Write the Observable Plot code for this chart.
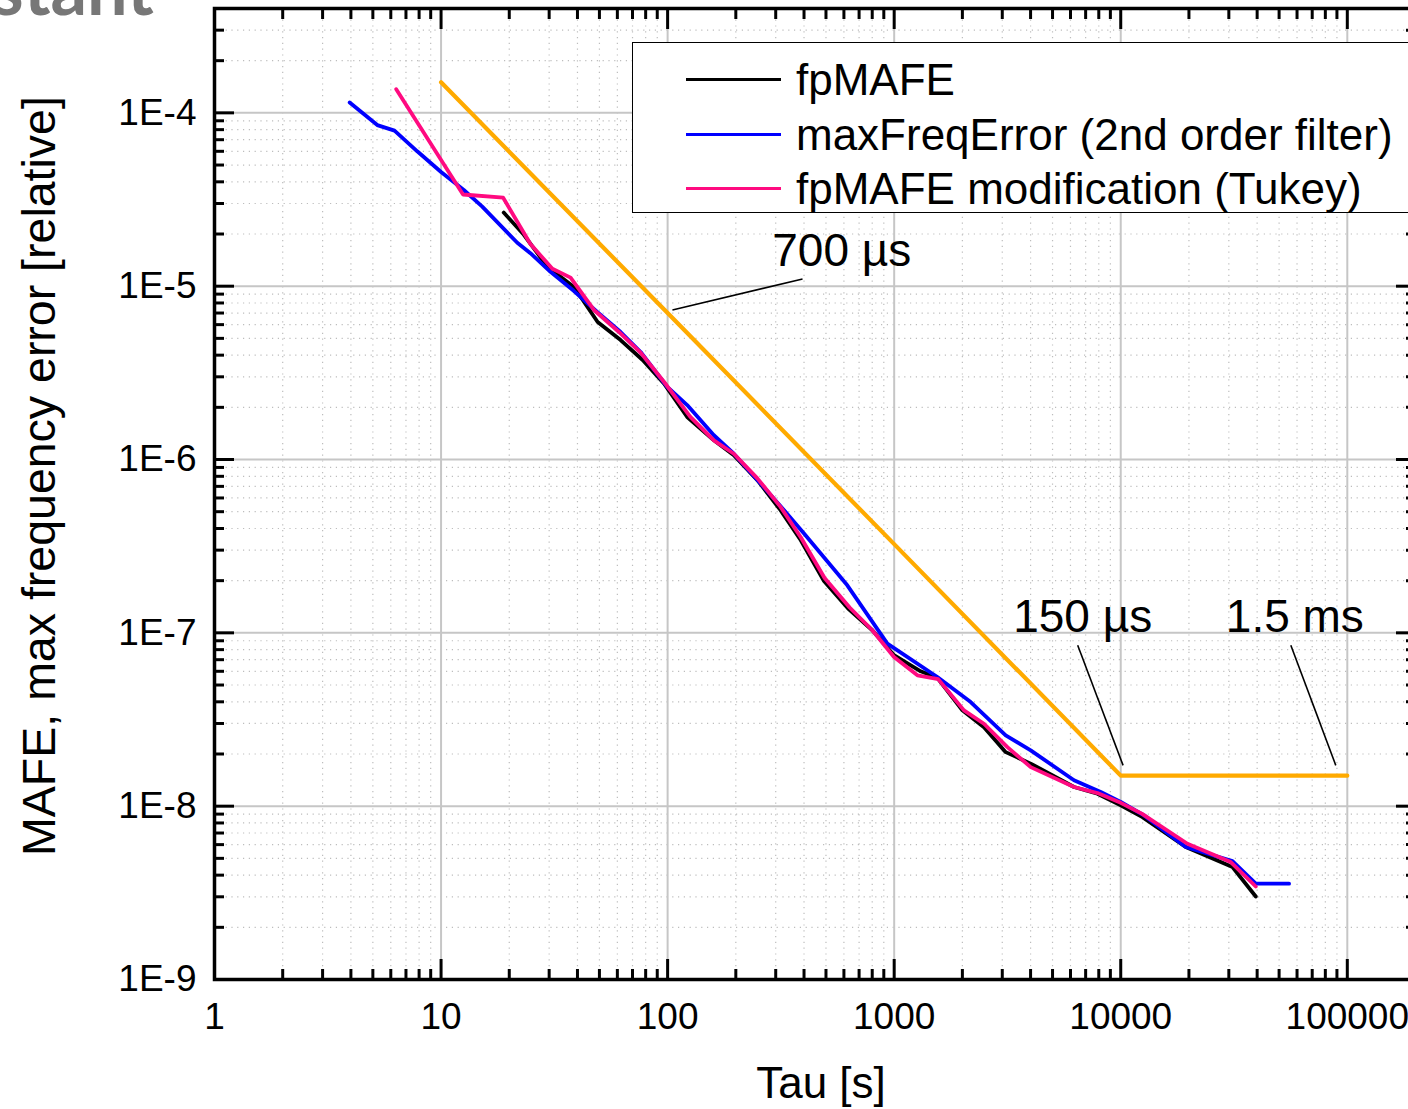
<!DOCTYPE html>
<html>
<head>
<meta charset="utf-8">
<script src="https://cdn.jsdelivr.net/npm/d3@7"></script>
<script src="https://cdn.jsdelivr.net/npm/@observablehq/plot@0.6"></script>
<style>
  html, body { margin: 0; padding: 0; background: #fff; overflow: hidden; width: 1408px; height: 1109px; }
  #wrap { position: relative; width: 1408px; height: 1109px; overflow: hidden; }
  #chart { position: absolute; left: 0; top: 0; }
  #chart svg { max-width: none !important; }
  #title { position: absolute; left: -8px; top: -49px; font: bold 72px Lato, "Open Sans", sans-serif; line-height: 72px; color: #777; white-space: nowrap; }
  #legend { position: absolute; left: 632px; top: 42px; width: 820px; height: 169px; border: 1.5px solid #000; background: #fff;
            font-family: "Liberation Sans", Arial, sans-serif; font-size: 44px; color: #000; }
  .item { position: absolute; left: 53px; height: 50px; display: flex; align-items: center; white-space: nowrap; }
  .swatch { width: 95px; height: 3px; margin-right: 15px; }
</style>
</head>
<body>
<div id="wrap">
  <div id="chart"></div>
  <div id="title">stant</div>
  <div id="legend"></div>
</div>
<script>
// ---- data ----
const seriesNames = ["fpMAFE", "maxFreqError (2nd order filter)", "fpMAFE modification (Tukey)"];
const seriesColors = ["#000000", "#0000ff", "#ff0a80"];

const blackTau = [18.9, 23.2, 29.4, 38.6, 49.1, 62, 77.6, 96.3, 122, 160, 196, 249, 315, 387, 490, 626, 801, 998, 1309, 1551, 2000, 2491, 3107, 4005, 6220, 7893, 10000, 12470, 19360, 31130, 39450];
const blackVal = [2.66e-5, 1.98e-5, 1.3e-5, 9.9e-6, 6.21e-6, 4.89e-6, 3.75e-6, 2.75e-6, 1.76e-6, 1.29e-6, 1.06e-6, 7.6e-7, 5.1e-7, 3.42e-7, 1.99e-7, 1.38e-7, 1.035e-7, 7.43e-8, 6.0e-8, 5.5e-8, 3.57e-8, 2.85e-8, 2.05e-8, 1.76e-8, 1.29e-8, 1.18e-8, 1.01e-8, 8.65e-9, 5.81e-9, 4.45e-9, 3.01e-9];

const blueTau = [3.95, 5.23, 6.23, 7.85, 10, 12.6, 15.2, 21.7, 24.8, 30.4, 38.5, 48.9, 62, 76, 99.7, 122, 160, 196, 257, 326, 400, 621, 933, 1551, 2176, 3107, 4005, 6220, 8163, 10000, 12670, 19360, 31130, 39450, 55340];
const blueVal = [1.147e-4, 8.5e-5, 7.9e-5, 6.0e-5, 4.56e-5, 3.59e-5, 2.88e-5, 1.78e-5, 1.55e-5, 1.21e-5, 9.4e-6, 7.1e-6, 5.44e-6, 4.17e-6, 2.62e-6, 2.06e-6, 1.38e-6, 1.08e-6, 7.28e-7, 5.11e-7, 3.74e-7, 1.88e-7, 8.67e-8, 5.56e-8, 3.99e-8, 2.56e-8, 2.1e-8, 1.41e-8, 1.206e-8, 1.057e-8, 8.85e-9, 5.81e-9, 4.82e-9, 3.57e-9, 3.57e-9];

const pinkTau = [6.34, 12.5, 18.8, 24.8, 31, 37.3, 47.3, 60.8, 76, 96.3, 126, 160, 196, 249, 315, 387, 493, 636, 801, 998, 1266, 1564, 2033, 2491, 3161, 4005, 6220, 7893, 10000, 12380, 19700, 30590, 39450];
const pinkVal = [1.37e-4, 3.38e-5, 3.24e-5, 1.75e-5, 1.26e-5, 1.12e-5, 7.29e-6, 5.46e-6, 4.14e-6, 2.81e-6, 1.76e-6, 1.29e-6, 1.08e-6, 7.78e-7, 5.33e-7, 3.56e-7, 2.07e-7, 1.4e-7, 1.035e-7, 7.26e-8, 5.69e-8, 5.41e-8, 3.57e-8, 2.99e-8, 2.19e-8, 1.68e-8, 1.29e-8, 1.19e-8, 1.045e-8, 9.05e-9, 6.07e-9, 4.76e-9, 3.44e-9];

const limitTau = [10, 100, 1000, 10000, 100000];
const limitVal = [1.5e-4, 7.0e-6, 3.25e-7, 1.5e-8, 1.5e-8];
const limitColor = "#ffaa00";

const annoText = ["700 µs", "150 µs", "1.5 ms"];
const annoTau = [587, 6795, 58660];
const annoVal = [1.58e-5, 1.23e-7, 1.23e-7];
const leaderTau1 = [394, 6457, 56330];
const leaderVal1 = [1.1e-5, 8.48e-8, 8.48e-8];
const leaderTau2 = [105, 10240, 88960];
const leaderVal2 = [7.29e-6, 1.72e-8, 1.72e-8];

const xTickValues = [1, 10, 100, 1000, 10000, 100000];
const xTickLabels = ["1", "10", "100", "1000", "10000", "100000"];
const yTickValues = [1e-9, 1e-8, 1e-7, 1e-6, 1e-5, 1e-4];
const yTickLabels = ["1E-9", "1E-8", "1E-7", "1E-6", "1E-5", "1E-4"];
const xDomain = [1, 2e5];
const yDomain = [1e-9, 4e-4];
const xTitle = "Tau [s]";
const yTitle = "MAFE, max frequency error [relative]";

// ---- build tables ----
const toRows = (t, v) => t.map((d, i) => ({tau: d, val: v[i]}));
const blackRows = toRows(blackTau, blackVal);
const blueRows = toRows(blueTau, blueVal);
const pinkRows = toRows(pinkTau, pinkVal);
const limitRows = toRows(limitTau, limitVal);
const annoRows = annoText.map((t, i) => ({text: t, tau: annoTau[i], val: annoVal[i]}));
const leaderRows = leaderTau1.map((d, i) => ({x1: d, y1: leaderVal1[i], x2: leaderTau2[i], y2: leaderVal2[i]}));

const minorTicks = (lo, hi) => {
  const out = [];
  for (let e = Math.floor(Math.log10(lo)); e <= Math.ceil(Math.log10(hi)); e++)
    for (let m = 2; m <= 9; m++) {
      const v = m * Math.pow(10, e);
      if (v > lo && v < hi * 0.999) out.push(v);
    }
  return out;
};
const xMinor = minorTicks(xDomain[0], xDomain[1]);
const yMinor = minorTicks(yDomain[0], yDomain[1]);

const W = 1431, H = 1109;
const font = "'Liberation Sans', Arial, sans-serif";
const xFmt = d => xTickLabels[xTickValues.indexOf(d)];
const yFmt = d => yTickLabels[yTickValues.findIndex(v => Math.abs(v - d) / v < 1e-6)];

const chart = Plot.plot({
  width: W,
  height: H,
  marginLeft: 214,
  marginRight: 16,
  marginTop: 8,
  marginBottom: 130,
  style: {fontFamily: font, maxWidth: "none", background: "white", color: "black"},
  x: {type: "log", domain: xDomain},
  y: {type: "log", domain: yDomain},
  marks: [
    Plot.gridX(xMinor, {stroke: "#bdbdbd", strokeOpacity: 1, strokeWidth: 1.2, strokeDasharray: "1.2,4.6"}),
    Plot.gridY(yMinor, {stroke: "#bdbdbd", strokeOpacity: 1, strokeWidth: 1.2, strokeDasharray: "1.2,4.6"}),
    Plot.gridX(xTickValues, {stroke: "#c6c6c6", strokeOpacity: 1, strokeWidth: 2}),
    Plot.gridY(yTickValues, {stroke: "#c6c6c6", strokeOpacity: 1, strokeWidth: 2}),
    Plot.line(limitRows, {x: "tau", y: "val", stroke: limitColor, strokeWidth: 4.2}),
    Plot.link(leaderRows, {x1: "x1", y1: "y1", x2: "x2", y2: "y2", stroke: "black", strokeWidth: 1.6}),
    Plot.line(blackRows, {x: "tau", y: "val", stroke: seriesColors[0], strokeWidth: 3.8}),
    Plot.line(blueRows, {x: "tau", y: "val", stroke: seriesColors[1], strokeWidth: 3.8}),
    Plot.line(pinkRows, {x: "tau", y: "val", stroke: seriesColors[2], strokeWidth: 3.8}),
    Plot.text(annoRows, {x: "tau", y: "val", text: "text", fontSize: 46, fill: "black", fontFamily: font}),
    Plot.frame({stroke: "black", strokeWidth: 3.5}),
    // inward ticks on all four sides
    Plot.axisX(xTickValues, {anchor: "bottom", tickSize: -20, strokeWidth: 3, fill: "none", label: null}),
    Plot.axisX(xMinor, {anchor: "bottom", tickSize: -10, strokeWidth: 3, fill: "none", label: null}),
    Plot.axisX(xTickValues, {anchor: "top", tickSize: -20, strokeWidth: 3, fill: "none", label: null}),
    Plot.axisX(xMinor, {anchor: "top", tickSize: -10, strokeWidth: 3, fill: "none", label: null}),
    Plot.axisY(yTickValues, {anchor: "left", tickSize: -20, strokeWidth: 3, fill: "none", label: null}),
    Plot.axisY(yMinor, {anchor: "left", tickSize: -10, strokeWidth: 3, fill: "none", label: null}),
    Plot.axisY(yTickValues, {anchor: "right", tickSize: -20, strokeWidth: 3, fill: "none", label: null}),
    Plot.axisY(yMinor, {anchor: "right", tickSize: -10, strokeWidth: 3, fill: "none", label: null}),
    // tick labels
    Plot.axisX(xTickValues, {anchor: "bottom", tickSize: 0, tickPadding: 23, tickFormat: xFmt, fontSize: 37, fill: "black", label: null}),
    Plot.axisY(yTickValues, {anchor: "left", tickSize: 0, tickPadding: 18, tickFormat: yFmt, fontSize: 37, fill: "black", label: null}),
    // axis titles
    Plot.text([xTitle], {frameAnchor: "bottom", dy: 104, dx: 6, textAnchor: "middle", lineAnchor: "middle", fontSize: 44, fill: "black", fontFamily: font}),
    Plot.text([yTitle], {frameAnchor: "left", rotate: -90, dx: -174, dy: -18, textAnchor: "middle", lineAnchor: "middle", fontSize: 46.5, fill: "black", fontFamily: font})
  ]
});
document.getElementById("chart").appendChild(chart);

// legend (overlaid inside the plot frame, as in the reference)
const legend = document.getElementById("legend");
const rowCenters = [36.5, 91.5, 145.5];
seriesNames.forEach((name, i) => {
  const item = document.createElement("div");
  item.className = "item";
  item.style.top = (rowCenters[i] - 25) + "px";
  const sw = document.createElement("div");
  sw.className = "swatch";
  sw.style.background = seriesColors[i];
  const tx = document.createElement("span");
  tx.textContent = name;
  item.appendChild(sw);
  item.appendChild(tx);
  legend.appendChild(item);
});
</script>
</body>
</html>
